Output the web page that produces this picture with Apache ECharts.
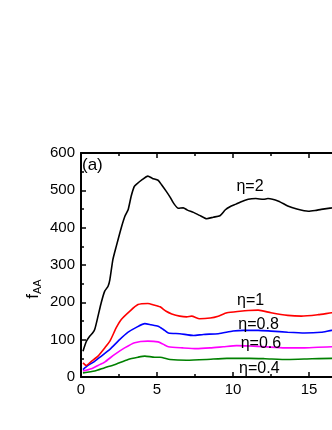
<!DOCTYPE html>
<html>
<head>
<meta charset="utf-8">
<script src="https://cdn.jsdelivr.net/npm/echarts@6/dist/echarts.min.js"></script>
<style>
  html, body { margin: 0; padding: 0; background: #fff; }
  #chart { width: 332px; height: 430px; }
</style>
</head>
<body>
<div id="chart"></div>
<script>
// curves: [t, f_AA]
var eta2 = [[0.13,69],[0.35,95],[0.57,109],[0.75,117],[0.9,127],[1.12,163],[1.33,199],[1.56,230],[1.78,243],[1.9,261],[2.1,315],[2.32,350],[2.65,400],[2.9,432],[3.1,448],[3.3,484],[3.5,510],[3.64,516],[4.0,528],[4.4,538],[4.7,532],[5.07,527],[5.3,515],[5.6,498],[5.86,482],[6.1,465],[6.4,452],[6.73,453],[7.0,447],[7.4,441],[7.8,433],[8.27,424],[8.7,428],[9.14,432],[9.5,448],[9.8,456],[10.2,463],[10.5,469],[11.0,476],[11.5,478],[12.0,476],[12.3,478],[13.0,471],[13.6,458],[14.2,450],[14.95,444],[15.4,446],[15.8,449],[16.5,453],[17.0,456]];
var eta1 = [[0.13,38],[0.35,31],[0.68,42],[1.12,56],[1.56,78],[1.9,96],[2.32,132],[2.65,154],[3.2,176],[3.75,194],[4.4,197],[4.8,193],[5.2,188],[5.6,176],[5.97,169],[6.5,163],[6.95,161],[7.28,163],[7.8,156],[8.5,158],[9.03,163],[9.6,172],[10.46,176],[11.0,178],[11.66,179],[12.5,172],[13.6,165],[14.5,163],[15.6,167],[16.5,172],[17.0,174]];
var eta08 = [[0.13,20],[0.46,31],[0.9,42],[1.34,56],[1.9,74],[2.54,100],[3.1,120],[3.64,133],[4.2,143],[4.6,140],[5.07,136],[5.4,128],[5.75,118],[6.5,116],[7.4,111],[8.05,114],[9.03,116],[10.0,123],[10.7,125],[11.66,125],[12.5,123],[13.6,120],[14.7,118],[15.8,120],[16.5,125],[17.0,126]];
var eta06 = [[0.13,16],[0.68,22],[1.12,31],[1.56,40],[2.2,60],[2.87,78],[3.53,92],[4.4,96],[5.07,94],[5.4,88],[5.75,81],[6.7,78],[7.6,76],[8.5,78],[9.36,81],[10.24,84],[11.1,83],[12.1,81],[13.4,78],[14.7,78],[16.5,81],[17.0,81]];
var eta04 = [[0.13,11],[0.9,16],[1.56,25],[2.2,33],[3.1,47],[3.75,53],[4.2,56],[4.85,53],[5.2,53],[5.86,47],[6.95,45],[8.27,47],[9.6,50],[11.1,50],[12.1,49],[13.6,47],[15.2,49],[16.5,50],[17.0,50]];

var names = ['η=2', 'η=1', 'η=0.8', 'η=0.6', 'η=0.4'];
var colors = ['#000000', '#ff0000', '#0000ff', '#ff00ff', '#008000'];
// where each curve label sits, in data coords
var labelPos = [[11.12, 509], [11.16, 205], [11.68, 141], [11.84, 90], [11.73, 23]];

var font = 'Liberation Sans, Arial, sans-serif';
var chart = echarts.init(document.getElementById('chart'));

function axisX(pos, showLabel) {
  return {
    type: 'value', position: pos, min: 0, max: 20, interval: 5,
    axisLine: { show: true, onZero: false, lineStyle: { color: '#000', width: 2 } },
    axisTick: { show: true, inside: true, length: 5, lineStyle: { color: '#000', width: 1.5 } },
    minorTick: { show: true, splitNumber: 2, length: 3, lineStyle: { color: '#000', width: 1.5 } },
    axisLabel: { show: showLabel, color: '#000', fontSize: 15, fontFamily: font, margin: 5 },
    splitLine: { show: false }
  };
}

var series = [eta2, eta1, eta08, eta06, eta04].map(function (d, i) {
  return {
    type: 'line', data: d, showSymbol: false, smooth: 0.2,
    lineStyle: { color: colors[i], width: 1.6 },
    itemStyle: { color: colors[i] },
    z: 5 - i,
    markPoint: {
      symbol: 'circle', symbolSize: 0, silent: true,
      data: [{ coord: labelPos[i] }],
      label: { show: true, position: 'inside', formatter: names[i], color: '#000', fontSize: 16, fontFamily: font }
    }
  };
});

chart.setOption({
  animation: false,
  backgroundColor: '#fff',
  // plot runs past the right edge of the picture (cropped figure)
  grid: { left: 81, top: 153, width: 304, height: 224, containLabel: false, outerBoundsMode: 'none' },
  xAxis: [axisX('bottom', true), axisX('top', false)],
  yAxis: {
    type: 'value', min: 0, max: 600, interval: 100,
    axisLine: { show: true, lineStyle: { color: '#000', width: 2 } },
    axisTick: { show: true, inside: true, length: 5, lineStyle: { color: '#000', width: 1.5 } },
    minorTick: { show: true, splitNumber: 2, length: 3, lineStyle: { color: '#000', width: 1.5 } },
    axisLabel: { color: '#000', fontSize: 15, fontFamily: font, margin: 6 },
    splitLine: { show: false }
  },
  graphic: [
    {
      type: 'text', left: 82, top: 157,
      style: { text: '(a)', fontSize: 17, fontFamily: font, fill: '#000' }
    },
    {
      type: 'text', x: 33, y: 289, rotation: Math.PI / 2,
      style: {
        text: '{m|f}{s|AA}', fontFamily: font, fill: '#000',
        align: 'center', verticalAlign: 'middle',
        rich: {
          m: { fontSize: 17, fontFamily: font, lineHeight: 20 },
          s: { fontSize: 11, fontFamily: font, verticalAlign: 'bottom', lineHeight: 20, padding: [6, 0, 0, 0] }
        }
      }
    }
  ],
  series: series
});
</script>
</body>
</html>
